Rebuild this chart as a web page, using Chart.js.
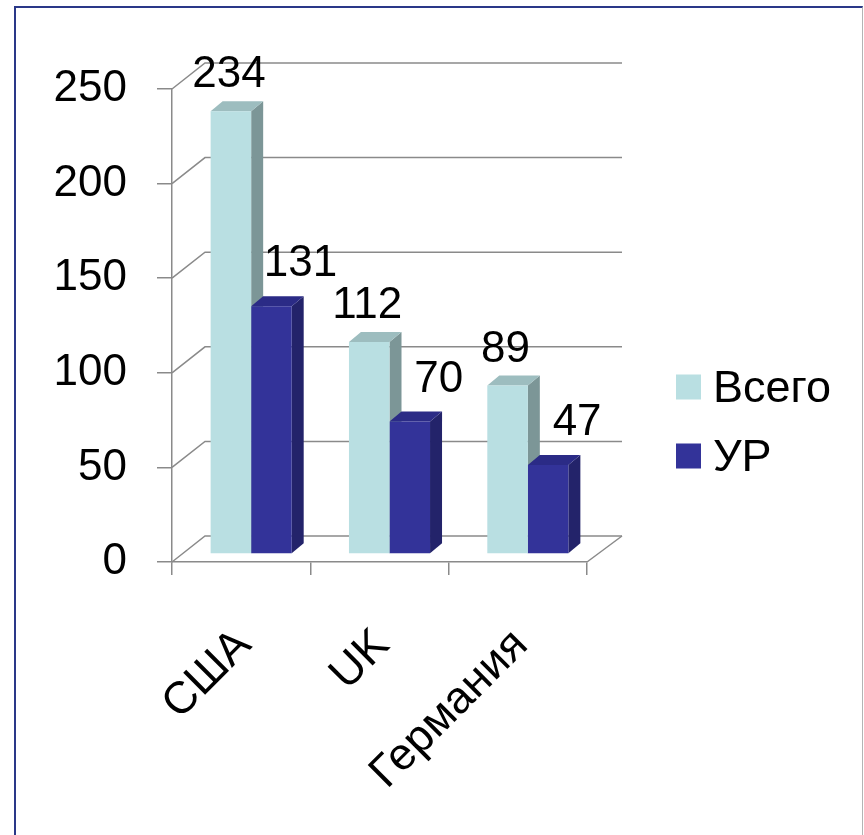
<!DOCTYPE html>
<html><head><meta charset="utf-8">
<script src="https://cdn.jsdelivr.net/npm/chart.js@4.4.0/dist/chart.umd.min.js"></script>
<style>
html,body{margin:0;padding:0;background:#fff;width:864px;height:835px;overflow:hidden}
#wrap{position:relative;width:864px;height:835px}
canvas{position:absolute;left:0;top:0}
#frame{position:absolute;left:14px;top:6px;width:846px;height:850px;border-left:2px solid #2a3888;border-top:2px solid #2a3888;border-right:1px solid #b4b4b4;pointer-events:none}
</style></head><body>
<div id="wrap"><canvas id="c" width="864" height="835"></canvas><div id="frame"></div></div>
<script>
// ---- data ----
const categories = ['США', 'UK', 'Германия'];
const seriesNames = ['Всего', 'УР'];
const totalValues = [234, 112, 89];
const urValues = [131, 70, 47];
const yTickValues = [0, 50, 100, 150, 200, 250];

// ---- styles ----
const FONT = '"Liberation Sans", Arial, Helvetica, sans-serif';
const GRID = '#8a8a8a';
const palette = [
  {front: '#b9dfe2', side: '#7c9697', top: '#9dbdbf'},
  {front: '#333399', side: '#23236a', top: '#2b2b86'}
];
const BAR_SHIFT = {x: 10, y: -8};
const WALL = {x: 33, y: -26};
const BAR_DEPTH = {x: 12, y: -10};
const LABEL_OFF = [{x: -2, y: -36}, {x: 29, y: -42}];

const threeD = {
  id: 'threeD',
  beforeDatasetsDraw(chart) {
    const ctx = chart.ctx, ys = chart.scales.y, a = chart.chartArea;
    ctx.save();
    ctx.strokeStyle = GRID; ctx.lineWidth = 1.5;
    ys.ticks.forEach(t => {
      const py = ys.getPixelForValue(t.value);
      ctx.beginPath();
      ctx.moveTo(a.left, py);
      ctx.lineTo(a.left + WALL.x, py + WALL.y);
      ctx.lineTo(a.right + WALL.x + 2, py + WALL.y);
      ctx.stroke();
    });
    const p0 = ys.getPixelForValue(0);
    ctx.beginPath(); ctx.moveTo(a.right, p0); ctx.lineTo(a.right + WALL.x + 2, p0 + WALL.y); ctx.stroke();
    chart.data.datasets.forEach((ds, di) => {
      const meta = chart.getDatasetMeta(di);
      meta.data.forEach(bar => {
        const p = bar.getProps(['x', 'y', 'base', 'width'], true);
        const l = p.x - p.width / 2 + BAR_SHIFT.x, r = p.x + p.width / 2 + BAR_SHIFT.x;
        const t = p.y + BAR_SHIFT.y, b = p.base + BAR_SHIFT.y;
        ctx.fillStyle = palette[di].side;
        ctx.beginPath(); ctx.moveTo(r, b); ctx.lineTo(r + BAR_DEPTH.x, b + BAR_DEPTH.y);
        ctx.lineTo(r + BAR_DEPTH.x, t + BAR_DEPTH.y); ctx.lineTo(r, t); ctx.closePath(); ctx.fill();
        ctx.fillStyle = palette[di].top;
        ctx.beginPath(); ctx.moveTo(l, t); ctx.lineTo(l + BAR_DEPTH.x, t + BAR_DEPTH.y);
        ctx.lineTo(r + BAR_DEPTH.x, t + BAR_DEPTH.y); ctx.lineTo(r, t); ctx.closePath(); ctx.fill();
      });
    });
    ctx.restore();
    ctx.save();
    ctx.translate(BAR_SHIFT.x, BAR_SHIFT.y);
  },
  afterDatasetsDraw(chart) {
    const ctx = chart.ctx;
    ctx.restore();
    ctx.save();
    ctx.font = '44px ' + FONT;
    ctx.fillStyle = '#000';
    ctx.textAlign = 'center';
    ctx.textBaseline = 'middle';
    chart.data.datasets.forEach((ds, di) => {
      chart.getDatasetMeta(di).data.forEach((bar, i) => {
        const p = bar.getProps(['x', 'y'], true);
        ctx.fillText(String(ds.data[i]), p.x + BAR_SHIFT.x + LABEL_OFF[di].x, p.y + BAR_SHIFT.y + LABEL_OFF[di].y);
      });
    });
    ctx.restore();
  },
  afterDraw(chart) {
    const ctx = chart.ctx;
    ctx.save();
    ctx.font = '45px ' + FONT;
    ctx.textBaseline = 'middle';
    ctx.textAlign = 'left';
    const lx = 676, ly0 = 387, gap = 69, box = 25;
    chart.data.datasets.forEach((ds, di) => {
      const cy = ly0 + di * gap;
      ctx.fillStyle = ds.backgroundColor;
      ctx.fillRect(lx, cy - box / 2, box, box);
      ctx.fillStyle = '#000';
      ctx.fillText(ds.label, lx + box + 12, cy + 3);
    });
    ctx.restore();
  }
};

new Chart(document.getElementById('c'), {
  type: 'bar',
  data: {
    labels: categories,
    datasets: [
      {label: seriesNames[0], data: totalValues, backgroundColor: palette[0].front, clip: false},
      {label: seriesNames[1], data: urValues, backgroundColor: palette[1].front, clip: false}
    ]
  },
  options: {
    responsive: false,
    animation: false,
    layout: {padding: {top: 89, right: 277, left: 0, bottom: 0}},
    datasets: {bar: {categoryPercentage: 0.586, barPercentage: 1.0, borderWidth: 0}},
    plugins: {legend: {display: false}, tooltip: {enabled: false}},
    scales: {
      x: {
        grid: {drawOnChartArea: false, tickLength: 13, color: GRID, lineWidth: 1.5},
        border: {display: true, color: GRID, width: 1.5},
        ticks: {minRotation: 45, maxRotation: 45, color: '#000', font: {size: 45, family: FONT}, padding: 44, labelOffset: 3},
        afterFit(s) { s.height = 273; }
      },
      y: {
        min: 0, max: 250,
        afterBuildTicks(s) { s.ticks = yTickValues.map(v => ({value: v})); },
        grid: {drawOnChartArea: false, tickLength: 15, color: GRID, lineWidth: 1.5},
        border: {display: true, color: GRID, width: 1.5},
        ticks: {color: '#000', font: {size: 44, family: FONT}, padding: 30},
        afterFit(s) { s.width = 172; }
      }
    }
  },
  plugins: [threeD]
});
</script>
</body></html>
